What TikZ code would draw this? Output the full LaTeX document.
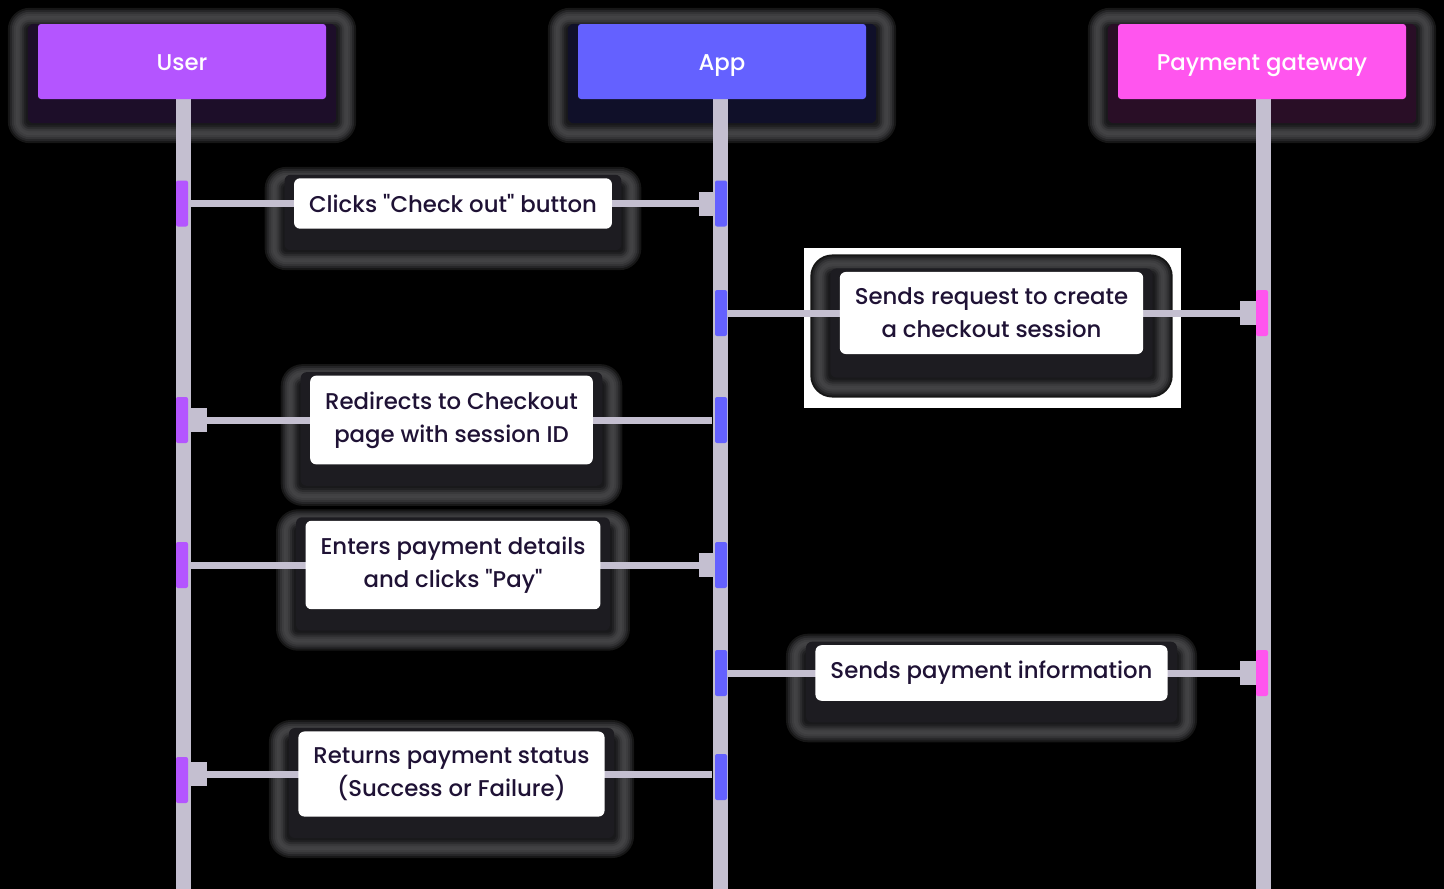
\documentclass[tikz,border=0pt]{standalone}
\usepackage{fontspec}
\setmainfont{Poppins}[UprightFont=* Medium, Ligatures=TeXOff]
\usetikzlibrary{arrows.meta,calc}
\pgfdeclarelayer{bg}
\pgfdeclarelayer{fg}
\pgfsetlayers{bg,main,fg}
\definecolor{usercol}{HTML}{B455FF}
\definecolor{appcol}{HTML}{6461FF}
\definecolor{gwcol}{HTML}{FF55EE}
\definecolor{linecol}{HTML}{C4BFD0}
\definecolor{ink}{HTML}{1F1235}
\definecolor{glowcol}{HTML}{626266}
\definecolor{shadecol}{HTML}{1D1C21}

% soft halo drawn under a box: #1 node, #2 side, #3 top, #4 bottom, #5 inner shade
\newcommand\boxglow[5]{%
  \foreach \i/\p in {0/22,2/38,4/52,6/62,8/68,10/66,12/58,14/46,16/34,18/26}{
    \fill[glowcol!\p!black, rounded corners=22pt-\i pt]
      ($(#1.south west)+(-#2+\i,#4-\i)$) rectangle ($(#1.north east)+(#2-\i,-#3+\i)$);
  }
  \fill[#5, rounded corners=6pt]
    ($(#1.south west)+(-#2+20,#4-20)$) rectangle ($(#1.north east)+(#2-20,0)$);
}

\begin{document}
\begin{tikzpicture}[x=1pt,y=-1pt,
  header/.style={rounded corners=3pt, minimum width=288pt, minimum height=75pt,
    inner sep=0pt, text height=19.5pt, text depth=2.5pt, text=white,
    font=\fontsize{22.8}{28}\selectfont},
  lifeline/.style={draw=linecol, line width=15pt},
  actbar/.style={rounded corners=2pt, minimum width=12pt, minimum height=46pt, inner sep=0pt},
  msg/.style={draw=linecol, line width=7pt, -{Rectangle[length=16pt,width=24pt]}},
  msgbox/.style={fill=white, rounded corners=6pt, text=ink, align=center,
    font=\fontsize{22.8}{33}\selectfont, inner xsep=15pt, inner ysep=16pt},
]
\useasboundingbox (0,0) rectangle (1444,889);

% participants
\begin{pgfonlayer}{fg}
  \node[header, fill=usercol] (user) at (182,61.5) {User};
  \node[header, fill=appcol]  (app)  at (722,61.5) {App};
  \node[header, fill=gwcol]   (gw)   at (1262,61.5) {Payment gateway};
\end{pgfonlayer}

% lifelines
\coordinate (userend) at (183,889);
\coordinate (append)  at (720,889);
\coordinate (gwend)   at (1263,889);
\draw[lifeline] (user.south -| userend) -- (userend);
\draw[lifeline] (app.south -| append) -- (append);
\draw[lifeline] (gw.south -| gwend) -- (gwend);

% activation bars
\node[actbar, fill=usercol] (u1) at (182,203.5) {};
\node[actbar, fill=usercol] (u2) at (182,420) {};
\node[actbar, fill=usercol] (u3) at (182,565) {};
\node[actbar, fill=usercol] (u4) at (182,780) {};
\node[actbar, fill=appcol] (a1) at (721,203.5) {};
\node[actbar, fill=appcol] (a2) at (721,313) {};
\node[actbar, fill=appcol] (a3) at (721,420) {};
\node[actbar, fill=appcol] (a4) at (721,565) {};
\node[actbar, fill=appcol] (a5) at (721,673) {};
\node[actbar, fill=appcol] (a6) at (721,777) {};
\node[actbar, fill=gwcol] (g1) at (1262,313) {};
\node[actbar, fill=gwcol] (g2) at (1262,673) {};

% messages
\draw[msg] ([xshift=3pt]u1.east) -- (u1.east -| a1.west)
  node[msgbox, midway] (m1) {Clicks "Check out" button};
\draw[msg] (a2.east) -- (a2.east -| g1.west)
  node[msgbox, midway] (m2) {Sends request to create\\a checkout session};
\draw[msg] ([xshift=-3pt]a3.west) -- ([xshift=3pt]a3.west -| u2.east)
  node[msgbox, midway] (m3) {Redirects to Checkout\\page with session ID};
\draw[msg] ([xshift=3pt]u3.east) -- (u3.east -| a4.west)
  node[msgbox, midway] (m4) {Enters payment details\\and clicks "Pay"};
\draw[msg] (a5.east) -- (a5.east -| g2.west)
  node[msgbox, midway] (m5) {Sends payment information};
\draw[msg] ([xshift=-3pt,yshift=3pt]a6.west) -- ([xshift=3pt,yshift=3pt]a6.west -| u4.east)
  node[msgbox, midway] (m6) {Returns payment status\\(Success or Failure)};

% backdrop and halos
\begin{pgfonlayer}{bg}
  \fill[black] (0,0) rectangle (1444,889);
  \fill[white] ($(m2.north west)+(-32,-20)$) rectangle ($(m2.south east)+(34,50)$);
  \boxglow{user}{30}{16}{44}{usercol!16!black}
  \boxglow{app}{30}{16}{44}{appcol!16!black}
  \boxglow{gw}{30}{16}{44}{gwcol!16!black}
  \boxglow{m1}{26}{8}{38}{shadecol}
  \boxglow{m2}{26}{14}{40}{shadecol}
  \boxglow{m3}{26}{8}{38}{shadecol}
  \boxglow{m4}{26}{8}{38}{shadecol}
  \boxglow{m5}{26}{8}{38}{shadecol}
  \boxglow{m6}{26}{8}{38}{shadecol}
\end{pgfonlayer}
\end{tikzpicture}
\end{document}
